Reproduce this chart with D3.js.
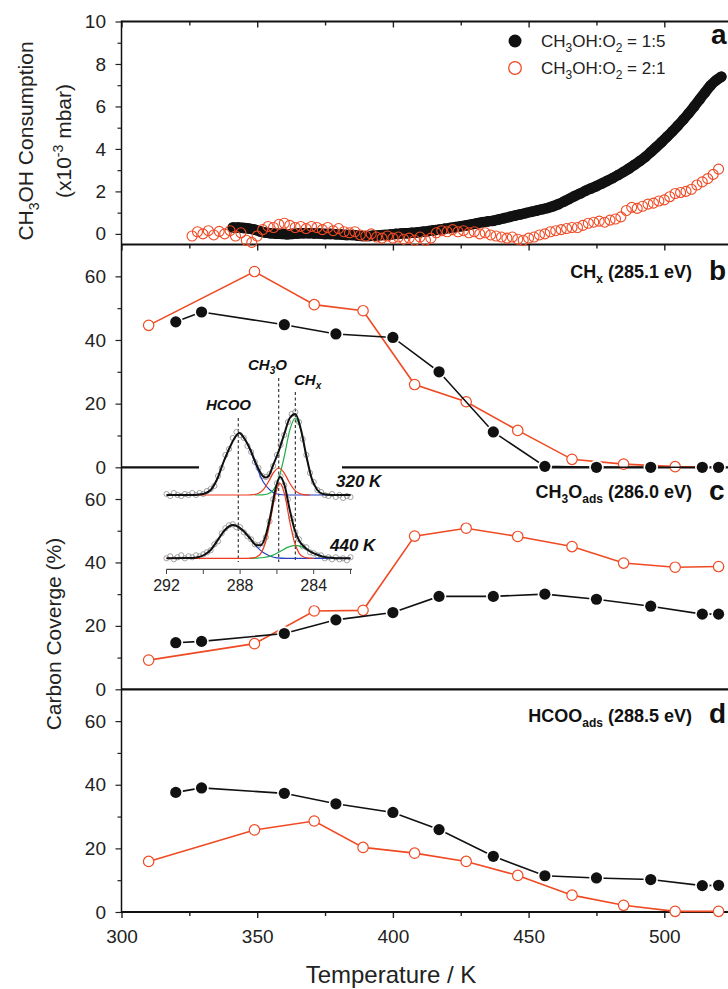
<!DOCTYPE html>
<html><head><meta charset="utf-8">
<script src="https://cdn.jsdelivr.net/npm/d3@7"></script>
<style>
body{margin:0;background:#fff;}
svg{display:block;font-family:"Liberation Sans",Arial,sans-serif;}
</style></head><body>
<svg id="chart" width="728" height="989"></svg>
<script>
// ---------------- DATA ----------------
// Panel a: CH3OH consumption (x10^-3 mbar) vs temperature
const tempA_black = [341,343,345,347,349,351,353,355,357,359,361,363,365,367,369,371,373,375,377,379,381,383,385,387,389,391,393,395,397,399,401,403,405,407,409,411,413,415,417,419,421,423,425,427,429,431,433,435,437,439,441,443,445,447,449,451,453,455,457,459,461,463,465,467,469,471,473,475,477,479,481,483,485,487,489,491,493,495,497,499,501,503,505,507,509,511,513,515,517,519,521];
const consA_black = [0.30,0.30,0.28,0.25,0.20,0.12,0.06,0.03,0.01,0.00,-0.02,0.00,0.02,0.03,0.03,0.02,0.02,0.00,0.00,-0.02,-0.03,-0.05,-0.05,-0.08,-0.10,-0.10,-0.08,-0.07,-0.05,-0.03,0.00,0.02,0.03,0.05,0.07,0.10,0.13,0.17,0.20,0.24,0.28,0.32,0.36,0.40,0.45,0.50,0.55,0.59,0.62,0.68,0.74,0.80,0.86,0.92,0.98,1.04,1.10,1.16,1.22,1.30,1.40,1.52,1.65,1.78,1.90,2.03,2.14,2.25,2.37,2.50,2.63,2.77,2.92,3.08,3.25,3.43,3.62,3.85,4.08,4.32,4.57,4.83,5.10,5.38,5.68,6.00,6.33,6.66,6.98,7.22,7.40];
const tempA_red = [326,328,330,332,334,336,338,340,342,344,346,348,350,352,354,356,358,360,362,364,366,368,370,372,374,376,378,380,382,384,386,388,390,392,394,396,398,400,402,404,406,408,410,412,414,416,418,420,422,424,426,428,430,432,434,436,438,440,442,444,446,448,450,452,454,456,458,460,462,464,466,468,470,472,474,476,478,480,482,484,486,488,490,492,494,496,498,500,502,504,506,508,510,512,514,516,518,520];
const consA_red = [-0.10,0.10,0.00,0.15,-0.05,0.12,0.00,0.15,-0.10,0.05,-0.30,-0.40,-0.10,0.20,0.35,0.30,0.45,0.50,0.40,0.30,0.35,0.25,0.35,0.30,0.20,0.30,0.15,0.25,0.10,0.05,0.10,-0.05,-0.10,0.00,-0.15,-0.20,-0.10,-0.20,-0.15,-0.25,-0.20,-0.30,-0.15,-0.30,-0.20,0.05,0.15,0.10,0.20,0.10,0.15,0.05,0.10,0.00,0.05,-0.05,-0.10,-0.15,-0.20,-0.15,-0.25,-0.30,-0.20,-0.15,-0.05,0.00,0.10,0.15,0.20,0.25,0.30,0.30,0.40,0.50,0.55,0.60,0.55,0.65,0.70,0.80,1.10,1.25,1.20,1.30,1.40,1.45,1.55,1.60,1.75,1.90,1.95,2.00,2.10,2.30,2.45,2.60,2.80,3.05];

// Panels b-d: carbon coverage (%)
const tempBlack = [320,329.5,360,379,400,417,437,456,475,495,514,520];
const tempRed   = [310,349,371,389,408,427,446,466,485,504,520];
const chxBlack  = [45.7,48.8,44.8,41.9,40.8,30.0,11.1,0.3,0,0,0,0];
const chxRed    = [44.6,61.5,51.1,49.2,26.0,20.6,11.6,2.5,1.0,0.2,0];
const ch3oBlack = [14.7,15.1,17.6,21.9,24.2,29.3,29.3,30.0,28.4,26.2,23.7,23.7];
const ch3oRed   = [9.2,14.4,24.7,24.9,48.3,50.8,48.2,45.0,39.8,38.5,38.7];
const hcooBlack = [37.6,39.0,37.3,34.0,31.3,25.9,17.5,11.4,10.7,10.2,8.3,8.4];
const hcooRed   = [15.9,25.8,28.6,20.3,18.5,15.9,11.5,5.3,2.1,0.2,0.2];

// Tick values
const xMajor = [300,350,400,450,500,550];
const xLabelled = [300,350,400,450,500];
const xMinor = [325,375,425,475,525];
const yMajorA = [0,2,4,6,8,10];
const yMinorA = [1,3,5,7,9];
const yMajorP = [0,20,40,60];
const yMinorP = [10,30,50];
const insetTicks = [292,290,288,286,284,282];
const insetLabels = [292,288,284];

// Inset XPS C1s spectra: [binding energy eV, intensity]
const spec320 = [[292,1],[291.8,-1],[291.6,2],[291.4,0],[291.2,-1],[291,1],[290.8,0],[290.6,2],[290.4,0],[290.2,2],[290,1],[289.8,4],[289.6,6],[289.4,9],[289.2,19],[289,27],[288.8,40],[288.6,46],[288.4,57],[288.2,63],[288,60],[287.8,57],[287.6,49],[287.4,43],[287.2,33],[287,27],[286.8,19],[286.6,18],[286.4,21],[286.2,29],[286,40],[285.8,50],[285.6,60],[285.4,73],[285.2,81],[285,83],[284.8,73],[284.6,56],[284.4,40],[284.2,22],[284,13],[283.8,5],[283.6,3],[283.4,0],[283.2,-1],[283,1],[282.8,-2],[282.6,0],[282.4,-3],[282.2,-1],[282,-2]];
const spec440 = [[292,0],[291.8,2],[291.6,-1],[291.4,1],[291.2,3],[291,0],[290.8,2],[290.6,1],[290.4,3],[290.2,2],[290,4],[289.8,6],[289.6,8],[289.4,14],[289.2,17],[289,25],[288.8,30],[288.6,33],[288.4,34],[288.2,31],[288,31],[287.8,26],[287.6,22],[287.4,19],[287.2,14],[287,13],[286.8,15],[286.6,21],[286.4,37],[286.2,59],[286,75],[285.8,82],[285.6,73],[285.4,59],[285.2,40],[285,26],[284.8,19],[284.6,12],[284.4,11],[284.2,6],[284,5],[283.8,3],[283.6,3],[283.4,0],[283.2,1],[283,-1],[282.8,1],[282.6,-1],[282.4,0],[282.2,-2],[282,1]];
const fit320 = [[292,0],[290.6,0],[290.3,0.3],[290.0,1],[289.6,5],[289.27,15],[288.9,33],[288.55,48],[288.3,57],[288.05,62],[287.75,56],[287.46,46],[287.1,30],[286.74,18.5],[286.6,17.5],[286.45,19],[286.2,30],[285.9,44],[285.6,61],[285.3,77],[285.0,81],[284.7,66],[284.4,39],[284.1,16],[283.8,5],[283.5,1],[283.0,0],[282,0]];
const hcoo320 = [[290.6,0],[290.3,0.3],[290.0,1],[289.6,5],[289.27,15],[288.9,33],[288.55,48],[288.3,57],[288.05,62],[287.75,56],[287.46,45],[287.1,28],[286.74,13],[286.38,5],[286.0,1],[285.5,0],[282,0]];
const ch3o320 = [[292,0],[287.6,0],[287.275,0.4],[287.0,1.7],[286.725,5.7],[286.45,13.5],[286.175,22.7],[285.9,27],[285.625,22.7],[285.35,13.5],[285.075,5.7],[284.8,1.7],[284.525,0.4],[284.2,0]];
const chx320 = [[287.2,0],[286.8,0.15],[286.5,1.0],[286.2,4.8],[285.9,16.2],[285.6,38.5],[285.3,64.8],[285.0,77],[284.7,64.8],[284.4,38.5],[284.1,16.2],[283.8,4.8],[283.5,1.0],[283.2,0.15],[282.8,0]];
const fit440 = [[292,0],[290.8,0.2],[290.6,0.3],[290.3,1],[289.96,3.3],[289.6,8.3],[289.27,16.7],[288.9,26.7],[288.6,32],[288.37,33.3],[288.1,31.5],[287.8,27],[287.46,20],[287.1,13],[286.88,13],[286.62,22],[286.36,42],[286.09,68],[285.83,81.6],[285.57,72],[285.31,49],[285.04,28.8],[284.78,17.2],[284.52,11.6],[284.26,7.6],[283.9,4.3],[283.5,1.7],[283.0,0.4],[282.5,0],[282,0]];
const hcoo440 = [[290.8,0],[290.6,0.3],[290.3,1],[289.96,3.3],[289.6,8.3],[289.27,16.7],[288.9,26.7],[288.6,32],[288.37,33.3],[288.1,31.5],[287.8,27],[287.46,20],[287.1,11.7],[286.74,5.7],[286.38,2.3],[286.0,0.5],[285.5,0],[282,0]];
const ch3o440 = [[292,0],[287.7,0],[287.4,0.15],[287.14,1.0],[286.88,4.7],[286.62,15.8],[286.36,37.5],[286.09,63.1],[285.83,75],[285.57,63.1],[285.31,37.5],[285.04,15.8],[284.78,4.7],[284.52,1.0],[284.26,0.15],[284.0,0]];
const chx440 = [[287.5,0],[287.125,0.17],[286.7,0.8],[286.275,2.7],[285.85,6.5],[285.425,10.9],[285.0,13],[284.575,10.9],[284.15,6.5],[283.725,2.7],[283.3,0.8],[282.875,0.17],[282.5,0]];
const peakPositions = [288.1, 285.9, 285.0];

// ---------------- DRAW ----------------
const RED = "#ef4a23";
const svg = d3.select("#chart");
const x = d3.scaleLinear().domain([300, 550]).range([121.5, 800]);
const yA = d3.scaleLinear().domain([-0.5, 10]).range([244.5, 21.5]);
const yB = d3.scaleLinear().domain([0, 70]).range([467.3, 244.5]);
const yC = d3.scaleLinear().domain([0, 70]).range([689.3, 467.3]);
const yD = d3.scaleLinear().domain([0, 70]).range([912, 689.3]);

function rich(sel, parts, subSize, shift) {
  let cur = 0;
  parts.forEach(([t, k]) => {
    const ts = sel.append("tspan").text(t);
    const target = k === "sub" ? shift : (k === "sup" ? -shift * 1.3 : 0);
    if (target - cur !== 0) ts.attr("dy", target - cur);
    cur = target;
    if (k) ts.attr("font-size", subSize);
  });
}

// y axes
function yAxis(scale, major, minor) {
  const g = svg.append("g").attr("transform", "translate(121.5,0)");
  g.call(d3.axisLeft(scale).tickValues(major).tickSize(6).tickPadding(9.5).tickFormat(d3.format("d")));
  g.call(gg => gg.select(".domain").remove());
  const m = svg.append("g").attr("transform", "translate(121.5,0)");
  m.call(d3.axisLeft(scale).tickValues(minor).tickSize(4).tickFormat(""));
  m.select(".domain").remove();
  [g, m].forEach(s => {
    s.selectAll("line").attr("stroke", "#222").attr("stroke-width", 1.2);
    s.selectAll("text").attr("font-size", 19).attr("fill", "#222").attr("font-family", "Liberation Sans, Arial, sans-serif");
  });
}
yAxis(yA, yMajorA, yMinorA);
yAxis(yB, yMajorP, yMinorP);
yAxis(yC, yMajorP, yMinorP);
yAxis(yD, yMajorP, yMinorP);

// x tick sets
function xTicks(yPos, labels) {
  const g = svg.append("g").attr("transform", `translate(0,${yPos})`);
  g.call(d3.axisBottom(x).tickValues(xMajor).tickSize(6).tickPadding(11.5)
    .tickFormat(d => (labels && xLabelled.includes(d)) ? d3.format("d")(d) : ""));
  g.select(".domain").remove();
  const m = svg.append("g").attr("transform", `translate(0,${yPos})`);
  m.call(d3.axisBottom(x).tickValues(xMinor).tickSize(4).tickFormat(""));
  m.select(".domain").remove();
  [g, m].forEach(s => {
    s.selectAll("line").attr("stroke", "#222").attr("stroke-width", 1.4);
    s.selectAll("text").attr("font-size", 19).attr("fill", "#222").attr("font-family", "Liberation Sans, Arial, sans-serif");
  });
}
xTicks(21.5, false);
xTicks(244.5, false);
xTicks(912, true);

// frame lines
[21.5, 244.5, 467.3, 689.3, 912].forEach(yy => {
  svg.append("line").attr("x1", 121.5).attr("x2", 800).attr("y1", yy).attr("y2", yy)
    .attr("stroke", "#111").attr("stroke-width", 2.2);
});
svg.append("line").attr("x1", 121.5).attr("x2", 121.5).attr("y1", 20.5).attr("y2", 913)
  .attr("stroke", "#111").attr("stroke-width", 1.5);

// panel a data
const gA = svg.append("g");
const blackA = tempA_black.map((t, i) => [t, consA_black[i]]);
gA.append("path").datum(blackA)
  .attr("d", d3.line().x(d => x(d[0])).y(d => yA(d[1])).curve(d3.curveMonotoneX))
  .attr("fill", "none").attr("stroke", "#111").attr("stroke-width", 10.5)
  .attr("stroke-linecap", "round").attr("stroke-linejoin", "round");
gA.selectAll("circle.blk").data(blackA).join("circle").attr("class", "blk")
  .attr("cx", d => x(d[0])).attr("cy", d => yA(d[1])).attr("r", 5.3).attr("fill", "#111");
gA.selectAll("circle.red").data(tempA_red.map((t, i) => [t, consA_red[i]])).join("circle").attr("class", "red")
  .attr("cx", d => x(d[0])).attr("cy", d => yA(d[1])).attr("r", 5).attr("fill", "none")
  .attr("stroke", RED).attr("stroke-width", 1.1);

// legend
svg.append("circle").attr("cx", 515).attr("cy", 41).attr("r", 6.5).attr("fill", "#111");
svg.append("circle").attr("cx", 515).attr("cy", 68).attr("r", 6.3).attr("fill", "#fff").attr("stroke", RED).attr("stroke-width", 1.3);
[["1:5", 47], ["2:1", 74]].forEach(([r, yy]) => {
  const t = svg.append("text").attr("x", 541).attr("y", yy).attr("font-size", 17).attr("fill", "#222");
  rich(t, [["CH"], ["3", "sub"], ["OH:O"], ["2", "sub"], [" = " + r]], 12, 5);
});

// panels b-d
function series(scale, temps, vals, color, filled) {
  const pts = temps.map((t, i) => [t, vals[i]]);
  const g = svg.append("g");
  g.append("path").datum(pts).attr("d", d3.line().x(d => x(d[0])).y(d => scale(d[1])))
    .attr("fill", "none").attr("stroke", color).attr("stroke-width", 1.6);
  if (filled) {
    g.selectAll("circle.h").data(pts).join("circle").attr("class", "h")
      .attr("cx", d => x(d[0])).attr("cy", d => scale(d[1])).attr("r", 7.2).attr("fill", "#fff");
    g.selectAll("circle.m").data(pts).join("circle").attr("class", "m")
      .attr("cx", d => x(d[0])).attr("cy", d => scale(d[1])).attr("r", 5.6).attr("fill", "#111");
  } else {
    g.selectAll("circle.m").data(pts).join("circle").attr("class", "m")
      .attr("cx", d => x(d[0])).attr("cy", d => scale(d[1])).attr("r", 5.2).attr("fill", "#fff")
      .attr("stroke", color).attr("stroke-width", 1.2);
  }
}
series(yB, tempRed, chxRed, RED, false);
series(yB, tempBlack, chxBlack, "#111", true);
series(yC, tempRed, ch3oRed, RED, false);
series(yC, tempBlack, ch3oBlack, "#111", true);
series(yD, tempRed, hcooRed, RED, false);
series(yD, tempBlack, hcooBlack, "#111", true);

// panel annotations
function panelLabel(yy, parts, letter, ly) {
  const t = svg.append("text").attr("x", 692).attr("y", yy).attr("text-anchor", "end")
    .attr("font-size", 18).attr("font-weight", "bold").attr("fill", "#111");
  rich(t, parts, 12, 5);
  svg.append("text").attr("x", 709).attr("y", ly).attr("font-size", 28).attr("font-weight", "bold")
    .attr("fill", "#111").text(letter);
}
svg.append("text").attr("x", 711).attr("y", 44).attr("font-size", 28).attr("font-weight", "bold").attr("fill", "#111").text("a");
panelLabel(278, [["CH"], ["x", "sub"], [" (285.1 eV)"]], "b", 280);
panelLabel(498, [["CH"], ["3", "sub"], ["O"], ["ads", "sub"], [" (286.0 eV)"]], "c", 500);
panelLabel(722, [["HCOO"], ["ads", "sub"], [" (288.5 eV)"]], "d", 723);

// axis titles
const yt1 = svg.append("text").attr("transform", "translate(33,141) rotate(-90)").attr("text-anchor", "middle")
  .attr("font-size", 21).attr("fill", "#222");
rich(yt1, [["CH"], ["3", "sub"], ["OH Consumption"]], 14, 6);
const yt2 = svg.append("text").attr("transform", "translate(71,141) rotate(-90)").attr("text-anchor", "middle")
  .attr("font-size", 21).attr("fill", "#222");
rich(yt2, [["(x10"], ["-3", "sup"], [" mbar)"]], 14, 6);
svg.append("text").attr("transform", "translate(61,634) rotate(-90)").attr("text-anchor", "middle")
  .attr("font-size", 21).attr("fill", "#222").text("Carbon Coverge (%)");
svg.append("text").attr("x", 391).attr("y", 983).attr("text-anchor", "middle")
  .attr("font-size", 24).attr("fill", "#222").text("Temperature / K");

// ---------------- INSET ----------------
svg.append("rect").attr("x", 199).attr("y", 462).attr("width", 143).attr("height", 11).attr("fill", "#fff");
const xe = d3.scaleLinear().domain([292, 282]).range([166.5, 350.5]);
const yi = d3.scaleLinear().domain([0, 100]).range([558.3, 458.3]);
const off320 = 63.3;
const gi = svg.append("g");
// axis
gi.append("line").attr("x1", 166.5).attr("x2", 352).attr("y1", 569.3).attr("y2", 569.3).attr("stroke", "#444").attr("stroke-width", 1.2);
gi.selectAll("line.t").data(insetTicks).join("line").attr("class", "t")
  .attr("x1", d => xe(d)).attr("x2", d => xe(d)).attr("y1", 569.3).attr("y2", 574).attr("stroke", "#444").attr("stroke-width", 1);
gi.selectAll("text.tl").data(insetLabels).join("text").attr("class", "tl")
  .attr("x", d => xe(d)).attr("y", 591).attr("text-anchor", "middle").attr("font-size", 16).attr("fill", "#222").text(d => d);
// dashed peak markers
const dashTops = [418, 378, 392];
gi.selectAll("line.dash").data(peakPositions).join("line").attr("class", "dash")
  .attr("x1", d => xe(d)).attr("x2", d => xe(d)).attr("y1", (d, i) => dashTops[i]).attr("y2", 562)
  .attr("stroke", "#111").attr("stroke-width", 1).attr("stroke-dasharray", "3,2.5");

function spectrum(data, fit, comps, offset) {
  const ln = d3.line().x(d => xe(d[0])).y(d => yi(d[1] + offset)).curve(d3.curveMonotoneX);
  gi.append("g").selectAll("circle").data(data).join("circle")
    .attr("cx", d => xe(d[0])).attr("cy", d => yi(d[1] + offset)).attr("r", 2.6)
    .attr("fill", "none").attr("stroke", "#8c8c8c").attr("stroke-width", 0.8);
  comps.forEach(([c, col]) => {
    gi.append("path").datum(c).attr("d", ln).attr("fill", "none").attr("stroke", col).attr("stroke-width", 1.2);
  });
  gi.append("path").datum(fit).attr("d", ln).attr("fill", "none").attr("stroke", "#111").attr("stroke-width", 2);
}
spectrum(spec320, fit320, [[hcoo320, "#2a3fc0"], [chx320, "#1fae45"], [ch3o320, "#ee3a1c"]], off320);
spectrum(spec440, fit440, [[hcoo440, "#2a3fc0"], [chx440, "#1fae45"], [ch3o440, "#ee3a1c"]], 0);

// inset labels
const lab = (xx, yy, parts, fs) => {
  const t = gi.append("text").attr("x", xx).attr("y", yy).attr("font-size", fs)
    .attr("font-weight", "bold").attr("font-style", "italic").attr("fill", "#111");
  rich(t, parts, 10, 4);
};
lab(206, 410, [["HCOO"]], 15);
lab(248, 370, [["CH"], ["3", "sub"], ["O"]], 15);
lab(294, 385, [["CH"], ["x", "sub"]], 15);
lab(336, 487, [["320 K"]], 17);
lab(330, 551, [["440 K"]], 17);
</script>
</body></html>
